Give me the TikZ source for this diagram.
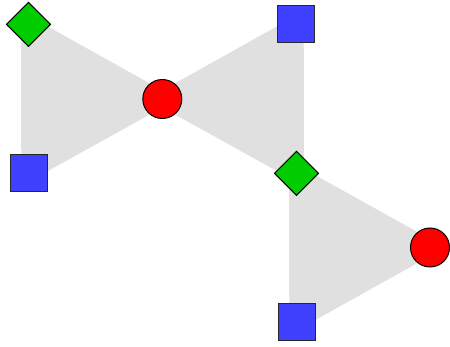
\documentclass[tikz,border=0pt]{standalone}
\usetikzlibrary{shapes.geometric,backgrounds}
\definecolor{nodegreen}{RGB}{0,204,0}
\definecolor{nodeblue}{RGB}{64,64,255}
\definecolor{nodered}{RGB}{255,0,0}
\definecolor{hullgray}{RGB}{224,224,224}
\definecolor{sqedge}{RGB}{40,40,40}
\begin{document}
\begin{tikzpicture}[x=1pt,y=-1pt,
  base/.style={draw=black, line width=1pt, inner sep=0pt, outer sep=0pt},
  dia/.style={base, diamond, fill=nodegreen, minimum width=44pt, minimum height=44pt},
  sq/.style={base, draw=sqedge, rectangle, fill=nodeblue, minimum size=37pt},
  circ/.style={base, circle, fill=nodered, minimum size=39pt},
  hull/.style={fill=hullgray, draw=hullgray, line width=15pt, line join=round}]
\useasboundingbox (0,0) rectangle (450,347);
\node[dia]  (d1) at (28.5,24.3) {};
\node[sq]   (s1) at (28.8,173) {};
\node[circ] (c1) at (162.3,99) {};
\node[sq]   (s2) at (296.2,24.2) {};
\node[dia]  (d2) at (296.5,173.3) {};
\node[circ] (c2) at (430,247.5) {};
\node[sq]   (s3) at (296.8,321.8) {};
\begin{scope}[on background layer]
\path[hull] (d1.center) -- (s1.center) -- (c1.center) -- cycle;
\path[hull] (s2.center) -- (c1.center) -- (d2.center) -- cycle;
\path[hull] (d2.center) -- (c2.center) -- (s3.center) -- cycle;
\end{scope}
\end{tikzpicture}
\end{document}
